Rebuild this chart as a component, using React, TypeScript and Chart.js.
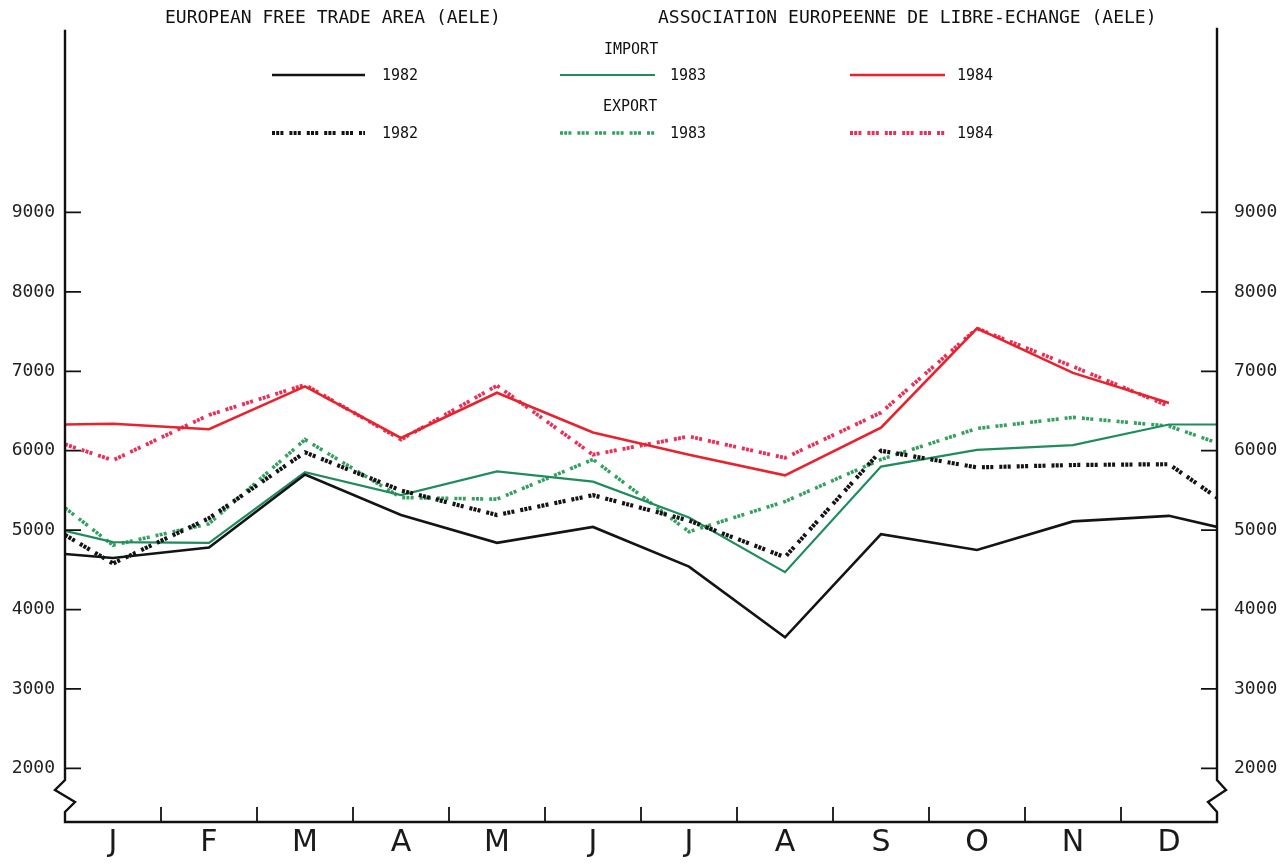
import React, { useEffect, useRef } from 'react';
import { Chart, registerables } from 'chart.js';

Chart.register(...registerables);

// ---- data ----
const MONTHS = ['J', 'F', 'M', 'A', 'M', 'J', 'J', 'A', 'S', 'O', 'N', 'D'];
const Y_TICKS = [2000, 3000, 4000, 5000, 6000, 7000, 8000, 9000];

const IMPORT_1982 = [4650, 4780, 5700, 5190, 4840, 5040, 4540, 3650, 4950, 4750, 5110, 5180];
const IMPORT_1982_EDGES: [number | null, number | null] = [4700, 5040];
const EXPORT_1982 = [4580, 5150, 5980, 5500, 5190, 5440, 5120, 4660, 6000, 5790, 5820, 5830];
const EXPORT_1982_EDGES: [number | null, number | null] = [4940, 5410];

const IMPORT_1983 = [4850, 4840, 5730, 5440, 5740, 5610, 5160, 4470, 5800, 6010, 6070, 6330];
const IMPORT_1983_EDGES: [number | null, number | null] = [4990, 6330];
const EXPORT_1983 = [4810, 5080, 6140, 5410, 5390, 5890, 4980, 5360, 5890, 6280, 6420, 6310];
const EXPORT_1983_EDGES: [number | null, number | null] = [5280, 6100];

const IMPORT_1984 = [6340, 6270, 6810, 6160, 6730, 6230, 5950, 5690, 6290, 7540, 6980, 6600];
const IMPORT_1984_EDGES: [number | null, number | null] = [6330, null];
const EXPORT_1984 = [5880, 6450, 6830, 6140, 6820, 5950, 6180, 5910, 6480, 7540, 7060, 6560];
const EXPORT_1984_EDGES: [number | null, number | null] = [6080, null];

const TITLE_LEFT = 'EUROPEAN FREE TRADE AREA (AELE)';
const TITLE_RIGHT = 'ASSOCIATION EUROPEENNE DE LIBRE-ECHANGE (AELE)';
const LABEL_IMPORT = 'IMPORT';
const LABEL_EXPORT = 'EXPORT';

const BLACK = '#141414';
const GREEN = '#1f8c5e';
const GREEN_DOT = '#35a060';
const RED = '#e8232d';
const RED_DOT = '#e8305a';
const DASH = [3, 1.2, 3, 1.2, 3, 6];

function series(values: number[], edges: [number | null, number | null]) {
  const pts: { x: number; y: number }[] = [];
  if (edges[0] !== null) pts.push({ x: 0, y: edges[0] as number });
  values.forEach((v, i) => pts.push({ x: i + 0.5, y: v }));
  if (edges[1] !== null) pts.push({ x: MONTHS.length, y: edges[1] as number });
  return pts;
}

const MONO = '"DejaVu Sans Mono", monospace';

const framePlugin = {
  id: 'frame',
  afterDatasetsDraw(chart: any) {
    const ctx = chart.ctx as CanvasRenderingContext2D;
    const { left, right, top, bottom } = chart.chartArea;
    const ys = chart.scales.y;
    const xs = chart.scales.x;
    ctx.save();
    ctx.strokeStyle = '#111';
    ctx.lineWidth = 2.4;
    ctx.lineJoin = 'miter';
    ctx.beginPath();
    // left axis with break
    ctx.moveTo(left, top + 2);
    ctx.lineTo(left, bottom - 42);
    ctx.lineTo(left - 10, bottom - 32);
    ctx.lineTo(left + 10, bottom - 20);
    ctx.lineTo(left, bottom - 10);
    ctx.lineTo(left, bottom);
    ctx.lineTo(right, bottom);
    ctx.lineTo(right, bottom - 10);
    ctx.lineTo(right - 9, bottom - 20);
    ctx.lineTo(right + 9, bottom - 32);
    ctx.lineTo(right, bottom - 42);
    ctx.lineTo(right, top);
    ctx.stroke();
    ctx.lineWidth = 1.8;
    ctx.beginPath();
    Y_TICKS.forEach((v) => {
      const py = ys.getPixelForValue(v);
      ctx.moveTo(left, py);
      ctx.lineTo(left + 16, py);
      ctx.moveTo(right, py);
      ctx.lineTo(right - 16, py);
    });
    for (let i = 1; i < MONTHS.length; i++) {
      const px = xs.getPixelForValue(i);
      ctx.moveTo(px, bottom);
      ctx.lineTo(px, bottom - 15);
    }
    ctx.stroke();
    ctx.restore();
  },
  afterDraw(chart: any) {
    const ctx = chart.ctx as CanvasRenderingContext2D;
    const ds = chart.data.datasets;
    ctx.save();
    ctx.fillStyle = '#111';
    ctx.textBaseline = 'middle';
    ctx.font = `18px ${MONO}`;
    ctx.textAlign = 'left';
    ctx.fillText(TITLE_LEFT, 165, 18);
    ctx.fillText(TITLE_RIGHT, 658, 18);
    ctx.font = `15px ${MONO}`;
    ctx.fillText(LABEL_IMPORT, 604, 50);
    ctx.fillText(LABEL_EXPORT, 603, 107);
    const cols = [
      { x0: 272, x1: 365, tx: 382 },
      { x0: 560, x1: 655, tx: 670 },
      { x0: 850, x1: 945, tx: 957 },
    ];
    const rows = [75, 133];
    ds.forEach((d: any) => {
      const row = d.kind === 'import' ? 0 : 1;
      const c = cols[d.col];
      const y = rows[row];
      ctx.save();
      ctx.strokeStyle = d.borderColor;
      ctx.lineWidth = d.borderWidth;
      ctx.setLineDash(d.borderDash || []);
      ctx.beginPath();
      ctx.moveTo(c.x0, y);
      ctx.lineTo(c.x1, y);
      ctx.stroke();
      ctx.restore();
      ctx.fillStyle = '#111';
      ctx.fillText(d.label.split(' ')[1], c.tx, y + 1);
    });
    ctx.restore();
  },
};

export default function App() {
  const ref = useRef<HTMLCanvasElement | null>(null);
  useEffect(() => {
    document.body.style.margin = '0';
    document.body.style.background = '#ffffff';
    const canvas = ref.current;
    if (!canvas) return;
    const mk = (label: string, kind: string, col: number, values: number[], edges: [number | null, number | null], color: string, width: number, dash?: number[]) => ({
      label,
      kind,
      col,
      data: series(values, edges),
      borderColor: color,
      backgroundColor: color,
      borderWidth: width,
      borderDash: dash || [],
      borderCapStyle: 'butt',
      pointRadius: 0,
      tension: 0,
      fill: false,
    });
    const datasets: any[] = [
      mk('IMPORT 1982', 'import', 0, IMPORT_1982, IMPORT_1982_EDGES, BLACK, 2.6),
      mk('EXPORT 1982', 'export', 0, EXPORT_1982, EXPORT_1982_EDGES, BLACK, 4.2, DASH),
      mk('IMPORT 1983', 'import', 1, IMPORT_1983, IMPORT_1983_EDGES, GREEN, 2.2),
      mk('EXPORT 1983', 'export', 1, EXPORT_1983, EXPORT_1983_EDGES, GREEN_DOT, 3.6, DASH),
      mk('IMPORT 1984', 'import', 2, IMPORT_1984, IMPORT_1984_EDGES, RED, 2.6),
      mk('EXPORT 1984', 'export', 2, EXPORT_1984, EXPORT_1984_EDGES, RED_DOT, 3.8, DASH),
    ];
    const yTicks = (s: any) => {
      s.ticks = Y_TICKS.map((v) => ({ value: v }));
    };
    const yCommon = {
      type: 'linear',
      min: 1325,
      max: 11325,
      afterBuildTicks: yTicks,
      grid: { display: false, drawTicks: false, drawOnChartArea: false },
      border: { display: false },
    };
    const tickFmt = (v: any) => String(v);
    const chart = new Chart(canvas, {
      type: 'line',
      data: { datasets },
      options: {
        responsive: false,
        animation: false,
        events: [],
        layout: { padding: { top: 22, left: 0, right: 0, bottom: 0 } },
        plugins: { legend: { display: false }, tooltip: { enabled: false }, title: { display: false } },
        scales: {
          x: {
            type: 'linear',
            min: 0,
            max: MONTHS.length,
            afterBuildTicks: (s: any) => {
              s.ticks = MONTHS.map((_, i) => ({ value: i + 0.5 }));
            },
            afterFit: (s: any) => {
              s.height = 42;
            },
            grid: { display: false, drawTicks: false },
            border: { display: false },
            ticks: {
              autoSkip: false,
              maxRotation: 0,
              padding: 3,
              color: '#1a1a1a',
              font: { family: '"DejaVu Sans", sans-serif', size: 30 },
              callback: (_v: any, i: number) => MONTHS[i],
            },
          },
          y: {
            ...yCommon,
            position: 'left',
            afterFit: (s: any) => {
              s.width = 65;
            },
            ticks: { padding: 10, color: '#222', font: { family: MONO, size: 18 }, callback: tickFmt },
          },
          y2: {
            ...yCommon,
            position: 'right',
            afterFit: (s: any) => {
              s.width = 65;
            },
            ticks: { padding: 17, color: '#222', font: { family: MONO, size: 18 }, callback: tickFmt },
          },
        },
      } as any,
      plugins: [framePlugin],
    });
    return () => chart.destroy();
  }, []);
  return (
    <div style={{ width: 1282, height: 864, background: '#fff', overflow: 'hidden' }}>
      <canvas ref={ref} width={1282} height={864} style={{ display: 'block' }} />
    </div>
  );
}
